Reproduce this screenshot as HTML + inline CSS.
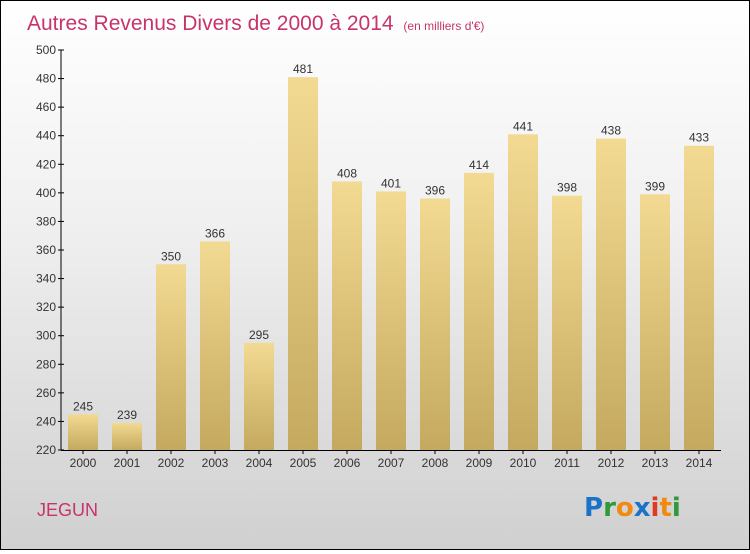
<!DOCTYPE html>
<html><head><meta charset="utf-8"><style>
html,body{margin:0;padding:0}
body{width:750px;height:550px;overflow:hidden;font-family:"Liberation Sans",sans-serif}
#frame{position:absolute;left:0;top:0;width:748px;height:548px;border:1px solid #000;background:linear-gradient(#ffffff 0%,#f0f0f0 40%,#d0d0d0 100%)}
</style></head><body>
<div id="frame">
<svg id="chart" width="748" height="548">
<defs>
<linearGradient id="bg" x1="0" y1="0" x2="0" y2="1">
<stop offset="0" stop-color="#f3da92"/><stop offset="1" stop-color="#c4a95f"/>
</linearGradient>
</defs>
<text x="26" y="29" font-size="21" fill="#c8336b">Autres Revenus Divers de 2000 à 2014 <tspan font-size="12" dx="4">(en milliers d'€)</tspan></text>
<text x="36" y="515" font-size="18" fill="#c8336b">JEGUN</text>
<g font-size="26" font-family="'DejaVu Sans',sans-serif" font-weight="bold">
<text x="583" y="515"><tspan fill="#1a73c8">P</tspan><tspan fill="#2e9a3a">r</tspan><tspan fill="#f08a10">o</tspan><tspan fill="#1a73c8">x</tspan><tspan fill="#e03a20">i</tspan><tspan fill="#f08a10">t</tspan><tspan fill="#2e9a3a">i</tspan></text>
</g>
<g id="axes"></g>
<g id="bars"></g>
</svg>
</div>
<script>
const categories=["2000","2001","2002","2003","2004","2005","2006","2007","2008","2009","2010","2011","2012","2013","2014"];
const values=[245,239,350,366,295,481,408,401,396,414,441,398,438,399,433];
const yTicks=[220,240,260,280,300,320,340,360,380,400,420,440,460,480,500];
const NS="http://www.w3.org/2000/svg";
const yMin=220,yMax=500,yTop=49,yBot=449;
function yPos(v){return yBot-(v-yMin)/(yMax-yMin)*(yBot-yTop);}
function xPos(i){return 82+i*44;}
const axesG=document.getElementById('axes'),barsG=document.getElementById('bars');
function mk(t,a,p){const e=document.createElementNS(NS,t);for(const k in a)e.setAttribute(k,a[k]);p.appendChild(e);return e;}
const yl=mk('line',{x1:60,y1:yTop,x2:60,y2:yBot,stroke:'#000'},axesG);


const xl=mk('line',{x1:60,y1:yBot+0.5,x2:720,y2:yBot+0.5,stroke:'#000'},axesG);


yTicks.forEach(v=>{
 mk('line',{x1:57,y1:yPos(v),x2:63,y2:yPos(v),stroke:'#000'},axesG);
 const t=mk('text',{x:55,y:yPos(v)+4,'text-anchor':'end','font-size':12,fill:'#333'},axesG);
 t.textContent=v;
 
 
});
categories.forEach((c,i)=>{
 const cx=xPos(i),v=values[i];
 const r=mk('rect',{x:cx-15,y:yPos(v),width:30,height:yBot-yPos(v),fill:'url(#bg)'},barsG);
 
 
 const l=mk('text',{x:cx,y:yPos(v)-4,'text-anchor':'middle','font-size':12,fill:'#333'},barsG);
 l.textContent=v;
 
 
 mk('line',{x1:cx,y1:yBot,x2:cx,y2:yBot+4,stroke:'#000'},axesG);
 const t=mk('text',{x:cx,y:yBot+17,'text-anchor':'middle','font-size':12,fill:'#333'},axesG);
 t.textContent=c;
 
 
});
</script>
</body></html>
